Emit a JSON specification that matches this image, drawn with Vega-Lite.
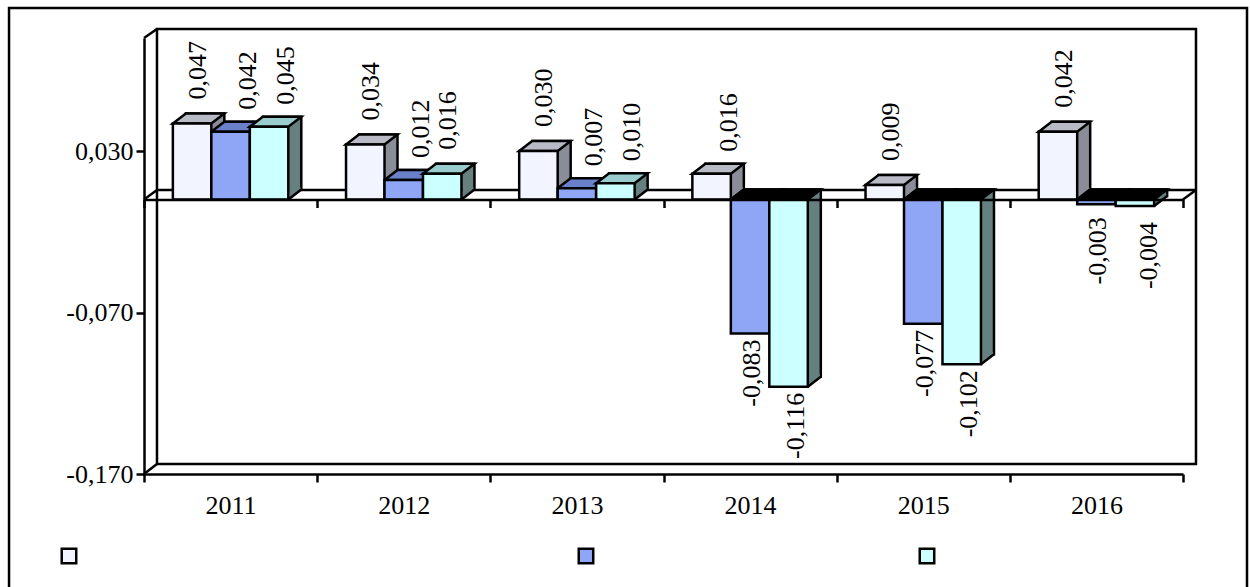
{
"$schema":"https://vega.github.io/schema/vega-lite/v6.json",
"width":1039,"height":436,
"autosize":{"type":"none"},
"padding":{"left":144,"top":38,"right":67,"bottom":113},
"background":"white",
"view":{"stroke":null},
"config":{"text":{"font":"Liberation Serif"}},
"datasets":{
"bars":[
{"year":"2011","series":"A","value":0.047},{"year":"2011","series":"B","value":0.042},{"year":"2011","series":"C","value":0.045},
{"year":"2012","series":"A","value":0.034},{"year":"2012","series":"B","value":0.012},{"year":"2012","series":"C","value":0.016},
{"year":"2013","series":"A","value":0.030},{"year":"2013","series":"B","value":0.007},{"year":"2013","series":"C","value":0.010},
{"year":"2014","series":"A","value":0.016},{"year":"2014","series":"B","value":-0.083},{"year":"2014","series":"C","value":-0.116},
{"year":"2015","series":"A","value":0.009},{"year":"2015","series":"B","value":-0.077},{"year":"2015","series":"C","value":-0.102},
{"year":"2016","series":"A","value":0.042},{"year":"2016","series":"B","value":-0.003},{"year":"2016","series":"C","value":-0.004}
],
"panels":[
{"name":"frame","x":-0.1299,"x2":1.0616,"y":0.1186,"y2":-0.2728},
{"name":"wall","x":0.0125,"x2":1.0125,"y":0.1056,"y2":-0.1638}
],
"edges":[
{"x":0,"x2":0.0125,"y":0.1,"y2":0.1056},
{"x":0,"x2":0.0125,"y":-0.17,"y2":-0.1638},
{"x":0,"x2":0.0125,"y":0,"y2":0.00587},
{"x":1,"x2":1.0125,"y":0,"y2":0.00587},
{"x":0.0125,"x2":1.0125,"y":0.00587,"y2":0.00587}
],
"keys":[
{"series":"A","slot":-0.0722,"y":-0.2208},
{"series":"B","slot":0.4254,"y":-0.2208},
{"series":"C","slot":0.7536,"y":-0.2208}
]
},
"resolve":{"scale":{"x":"independent"},"axis":{"x":"independent","y":"independent"}},
"layer":[
{
"layer":[
{"data":{"name":"panels"},"mark":{"type":"rect","fill":"white","stroke":"black","strokeWidth":2.5},
"encoding":{"x":{"field":"x","type":"quantitative","scale":{"domain":[0,1],"nice":false,"zero":false},"axis":null},"x2":{"field":"x2"},
"y":{"field":"y","type":"quantitative","scale":{"domain":[-0.17,0.1],"nice":false,"zero":false},"axis":null},"y2":{"field":"y2"}}},
{"data":{"name":"edges"},"mark":{"type":"rule","stroke":"black","strokeWidth":2.5},
"encoding":{"x":{"field":"x","type":"quantitative","scale":{"domain":[0,1],"nice":false,"zero":false},"axis":null},"x2":{"field":"x2"},
"y":{"field":"y","type":"quantitative","scale":{"domain":[-0.17,0.1],"nice":false,"zero":false},"axis":null},"y2":{"field":"y2"}}},
{"data":{"name":"keys"},"mark":{"type":"point","shape":"square","filled":true,"opacity":1,"size":210,"stroke":"black","strokeWidth":2.5},
"encoding":{"x":{"field":"slot","type":"quantitative","scale":{"domain":[0,1],"nice":false,"zero":false},"axis":null},
"y":{"field":"y","type":"quantitative","scale":{"domain":[-0.17,0.1],"nice":false,"zero":false},"axis":null},
"fill":{"field":"series","type":"nominal","scale":{"domain":["A","B","C"],"range":["#f2f5ff","#8fa6f7","#ccffff"]},"legend":null}}}
]
},
{
"data":{"name":"bars"},
"transform":[
{"calculate":"min(datum.value,0)","as":"base"},
{"calculate":"max(datum.value,0)","as":"top"},
{"calculate":"max(datum.value,0)+0.00619","as":"backTop"},
{"calculate":"min(datum.value,0)+0.00619","as":"backBase"},
{"calculate":"(datum.value<0?'-':'')+replace(format(abs(datum.value),'.3f'),'.',',')","as":"label"}
],
"resolve":{"scale":{"fill":"independent","xOffset":"independent"}},
"encoding":{
"x":{"field":"year","type":"nominal","scale":{"type":"band","domain":["2011","2012","2013","2014","2015","2016"],"paddingInner":0,"paddingOuter":0},"axis":null},
"xOffset":{"field":"series","type":"nominal","scale":{"type":"band","domain":["A","B","C"],"paddingInner":0,"paddingOuter":0.75}}
},
"layer":[
{"mark":{"type":"rect","stroke":"black","strokeWidth":2.5},
"encoding":{
"xOffset":{"field":"series","type":"nominal","scale":{"type":"band","domain":["A","B","C"],"paddingInner":0,"paddingOuter":0.75,"range":[13,186.17]}},
"y":{"field":"backTop","type":"quantitative","scale":{"domain":[-0.17,0.1],"nice":false,"zero":false},"axis":null},"y2":{"field":"backBase"},
"fill":{"field":"series","type":"nominal","scale":{"domain":["A","B","C"],"range":["#8a8c98","#5f78c0","#668080"]},"legend":null}}},
{"mark":{"type":"point","shape":"M20 0L31.5 -9L31.5 -12L20 -12Z","size":4,"filled":true,"opacity":1,"strokeWidth":0},
"encoding":{"y":{"field":"base","type":"quantitative","scale":{"domain":[-0.17,0.1],"nice":false,"zero":false},"axis":null},
"fill":{"field":"series","type":"nominal","scale":{"domain":["A","B","C"],"range":["#8a8c98","#5f78c0","#668080"]},"legend":null}}},
{"mark":{"type":"point","shape":"M19.25 0L32.25 -10","size":4,"filled":false,"opacity":1,"stroke":"black","strokeWidth":2.5},
"encoding":{"y":{"field":"base","type":"quantitative","scale":{"domain":[-0.17,0.1],"nice":false,"zero":false},"axis":null}}},
{"mark":{"type":"point","shape":"M-19.25 0L19.25 0L32.25 -10L-6.25 -10Z","size":4,"filled":true,"opacity":1,"stroke":"black","strokeWidth":2.5},
"encoding":{"y":{"field":"top","type":"quantitative","scale":{"domain":[-0.17,0.1],"nice":false,"zero":false},"axis":null},
"fill":{"condition":{"test":"datum.value<0","value":"#000000"},"field":"series","type":"nominal","scale":{"domain":["A","B","C"],"range":["#b8bac6","#6a80c8","#99cccc"]},"legend":null}}},
{"mark":{"type":"bar","stroke":"black","strokeWidth":2.5},
"encoding":{
"y":{"field":"value","type":"quantitative","scale":{"domain":[-0.17,0.1],"nice":false,"zero":false},"axis":null},
"fill":{"field":"series","type":"nominal","scale":{"domain":["A","B","C"],"range":["#f2f5ff","#8fa6f7","#ccffff"]},"legend":null}}},
{"transform":[{"filter":"datum.value>=0 && datum.series!='B' && !(datum.series=='C' && datum.year!='2012') && !(datum.series=='A' && datum.year=='2014')"}],
"mark":{"type":"text","angle":270,"align":"left","baseline":"middle","dx":24,"dy":6,"fontSize":26,"font":"Liberation Serif","fill":"black"},
"encoding":{"y":{"field":"value","type":"quantitative","scale":{"domain":[-0.17,0.1],"nice":false,"zero":false},"axis":null},"text":{"field":"label"}}},
{"transform":[{"filter":"datum.value>=0 && (datum.series=='B' || (datum.series=='C' && datum.year!='2012') || (datum.series=='A' && datum.year=='2014'))"}],
"mark":{"type":"text","angle":270,"align":"left","baseline":"middle","dx":22,"dy":17,"fontSize":26,"font":"Liberation Serif","fill":"black"},
"encoding":{"y":{"field":"value","type":"quantitative","scale":{"domain":[-0.17,0.1],"nice":false,"zero":false},"axis":null},"text":{"field":"label"}}},
{"transform":[{"filter":"datum.value<0 && datum.series=='B' && datum.year!='2016'"}],
"mark":{"type":"text","angle":270,"align":"right","baseline":"middle","dx":-6,"dy":2,"fontSize":26,"font":"Liberation Serif","fill":"black"},
"encoding":{"y":{"field":"value","type":"quantitative","scale":{"domain":[-0.17,0.1],"nice":false,"zero":false},"axis":null},"text":{"field":"label"}}},
{"transform":[{"filter":"datum.value<0 && datum.series=='C' && datum.year!='2016'"}],
"mark":{"type":"text","angle":270,"align":"right","baseline":"middle","dx":-6,"dy":7,"fontSize":26,"font":"Liberation Serif","fill":"black"},
"encoding":{"y":{"field":"value","type":"quantitative","scale":{"domain":[-0.17,0.1],"nice":false,"zero":false},"axis":null},"text":{"field":"label"}}},
{"transform":[{"filter":"datum.value<0 && datum.series=='B' && datum.year=='2016'"}],
"mark":{"type":"text","angle":270,"align":"right","baseline":"middle","dx":-13,"dy":2,"fontSize":26,"font":"Liberation Serif","fill":"black"},
"encoding":{"y":{"field":"value","type":"quantitative","scale":{"domain":[-0.17,0.1],"nice":false,"zero":false},"axis":null},"text":{"field":"label"}}},
{"transform":[{"filter":"datum.value<0 && datum.series=='C' && datum.year=='2016'"}],
"mark":{"type":"text","angle":270,"align":"right","baseline":"middle","dx":-16,"dy":14,"fontSize":26,"font":"Liberation Serif","fill":"black"},
"encoding":{"y":{"field":"value","type":"quantitative","scale":{"domain":[-0.17,0.1],"nice":false,"zero":false},"axis":null},"text":{"field":"label"}}}
]
},
{
"data":{"name":"bars"},
"mark":{"type":"bar","opacity":0},
"encoding":{
"x":{"field":"year","type":"nominal","scale":{"domain":["2011","2012","2013","2014","2015","2016"],"paddingInner":0,"paddingOuter":0},
"axis":{"orient":"bottom","offset":-274.5,"title":null,"labels":false,"tickBand":"extent","tickSize":8,"tickWidth":2.5,"tickColor":"black","domainWidth":2.5,"domainColor":"black","grid":false,"zindex":1}},
"y":{"field":"value","type":"quantitative","scale":{"domain":[-0.17,0.1],"nice":false,"zero":false},"axis":null}
}
},
{
"data":{"name":"bars"},
"mark":{"type":"bar","opacity":0},
"encoding":{
"x":{"field":"year","type":"nominal","scale":{"domain":["2011","2012","2013","2014","2015","2016"],"paddingInner":0,"paddingOuter":0},
"axis":{"orient":"bottom","title":null,"tickBand":"extent","labelAngle":0,"labelFont":"Liberation Serif","labelFontSize":26,"labelColor":"black","labelPadding":10,"tickSize":8,"tickWidth":2.5,"tickColor":"black","domainWidth":2.5,"domainColor":"black","grid":false,"zindex":1}},
"y":{"field":"value","type":"quantitative","scale":{"domain":[-0.17,0.1],"nice":false,"zero":false},
"axis":{"title":null,"orient":"left","values":[0.03,-0.07,-0.17],"labelExpr":"(datum.value<0?'-':'')+replace(format(abs(datum.value),'.3f'),'.',',')","labelFont":"Liberation Serif","labelFontSize":26,"labelColor":"black","labelPadding":3,"tickSize":8,"tickWidth":2.5,"tickColor":"black","domainWidth":2.5,"domainColor":"black","grid":false,"zindex":1}}
}
}
]
}
